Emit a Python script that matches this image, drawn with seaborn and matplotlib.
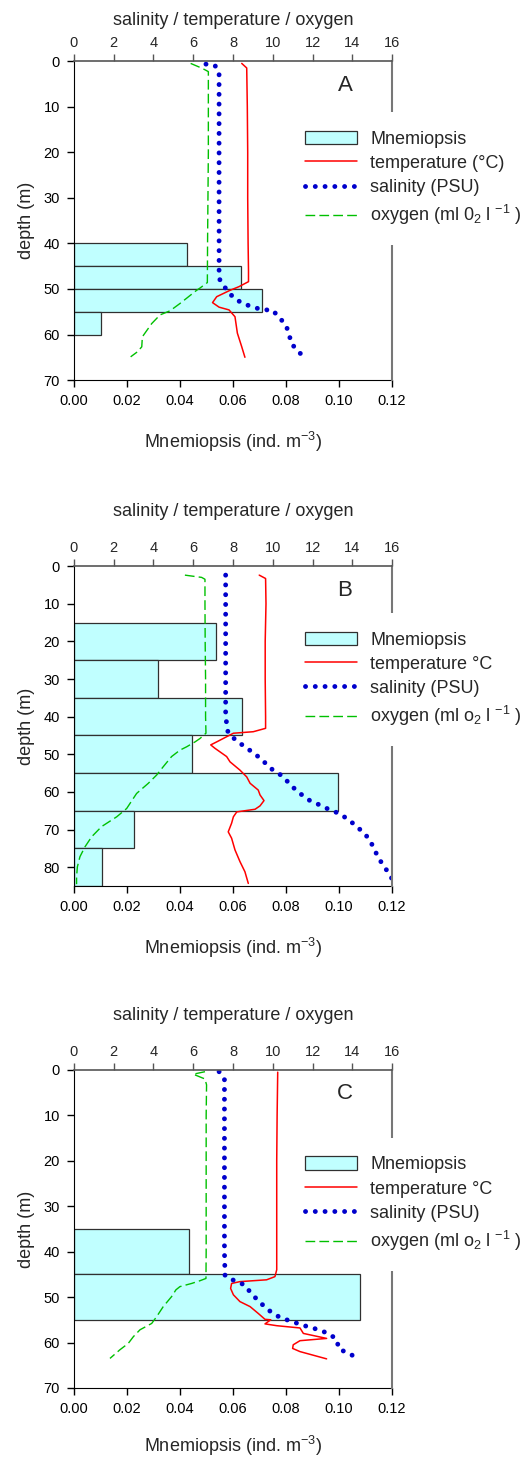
import matplotlib
matplotlib.use("Agg")
import matplotlib.pyplot as plt
import seaborn as sns

# ---- data ----
# Mnemiopsis bars (top of depth bin, bin height, ind. m-3)
a_bin_top = [40, 45, 50, 55]
a_bin_h = [5, 5, 5, 5]
a_mnem = [0.0425, 0.0629, 0.0708, 0.0102]

b_bin_top = [15, 25, 35, 45, 55, 65, 75]
b_bin_h = [10, 10, 10, 10, 10, 10, 10]
b_mnem = [0.0536, 0.0318, 0.0633, 0.0446, 0.0995, 0.0226, 0.0107]

c_bin_top = [35, 45]
c_bin_h = [10, 10]
c_mnem = [0.0434, 0.1079]

# Panel A profiles
a_temp_depth = [0.5, 1.5, 10, 20, 30, 40, 46, 48.4, 49.5, 50.3, 51.7, 53.0, 54.0, 54.6, 56.1, 59.7, 62.7, 65.0]
a_temp = [8.44, 8.69, 8.72, 8.74, 8.74, 8.76, 8.78, 8.78, 8.3, 7.85, 7.18, 6.97, 7.3, 7.8, 8.1, 8.22, 8.44, 8.6]
a_sal_depth = [0.66, 0.95, 2.4, 10, 20, 30, 40, 47.7, 49.7, 51.9, 53.2, 53.9, 54.6, 54.6, 55.9, 57.7, 59.7, 61.8, 63.3, 64.9]
a_sal = [6.64, 7.09, 7.3, 7.3, 7.3, 7.3, 7.3, 7.3, 7.6, 8.02, 8.49, 8.97, 9.47, 9.98, 10.25, 10.62, 10.83, 10.9, 11.2, 11.55]
a_oxy_depth = [0.5, 1.6, 2.3, 10, 20, 30, 40, 48.6, 49.8, 50.3, 53.2, 54.8, 55.7, 57.6, 60.5, 62.7, 63.8, 64.9]
a_oxy = [5.87, 6.46, 6.76, 6.76, 6.76, 6.74, 6.72, 6.71, 6.34, 6.17, 5.33, 4.83, 4.33, 3.91, 3.44, 3.41, 3.19, 2.85]

# Panel B profiles
b_temp_depth = [2.4, 3.3, 10, 20, 30, 40, 43.1, 44.0, 44.4, 46.7, 47.5, 48.4, 50.6, 52.0, 54.2, 56.0, 57.7,
                59.5, 60.8, 62.3, 63.7, 64.6, 65.3, 66.6, 68.3, 70.6, 72.3, 75.4, 78.5, 81.2, 84.3]
b_temp = [9.32, 9.64, 9.66, 9.62, 9.62, 9.64, 9.64, 9.02, 8.02, 7.18, 6.88, 7.09, 7.68, 7.85, 8.35, 8.69, 8.86,
          9.27, 9.36, 9.56, 9.36, 9.11, 8.19, 8.02, 7.93, 7.76, 7.93, 8.1, 8.35, 8.6, 8.77]
b_sal_depth = [2.4, 10, 20, 30, 40, 44.2, 46.2, 48.1, 49.9, 52.1, 54.3, 55.8, 58.3, 60.4, 62.3, 63.5, 64.7,
               65.7, 67.3, 68.9, 70.9, 72.8, 75.3, 77.9, 80.2, 82.9, 83.8]
b_sal = [7.63, 7.63, 7.63, 7.63, 7.63, 7.75, 8.13, 8.62, 9.11, 9.58, 10.03, 10.5, 10.92, 11.37, 11.87, 12.38, 12.85,
         13.33, 13.8, 14.16, 14.59, 14.89, 15.11, 15.36, 15.66, 15.98, 16.05]
b_oxy_depth = [2.4, 3.0, 3.5, 10, 20, 30, 40, 44.4, 45.8, 46.7, 48.0, 48.9, 50.6, 53.3, 55.5, 57.7, 60.4,
               64.4, 66.6, 69.2, 71.9, 74.6, 77.2, 79.9, 82.5, 84.5]
b_oxy = [5.58, 6.42, 6.59, 6.59, 6.6, 6.62, 6.62, 6.64, 6.34, 6.09, 5.67, 5.33, 4.91, 4.49, 4.16, 3.74, 3.15,
         2.65, 2.15, 1.39, 0.89, 0.55, 0.30, 0.17, 0.13, 0.13]

# Panel C profiles
c_temp_depth = [0.5, 10, 20, 30, 40, 44.0, 45.5, 46.2, 46.6, 47.0, 48.1, 49.5, 51.0, 52.1, 53.6, 54.9, 55.0,
                55.9, 56.3, 56.8, 58.0, 59.1, 59.6, 60.5, 61.3, 62.0, 63.6]
c_temp = [10.25, 10.22, 10.2, 10.2, 10.2, 10.2, 10.11, 9.69, 8.35, 7.93, 7.88, 8.02, 8.35, 8.86, 9.27, 9.61, 9.9,
          9.61, 10.2, 11.37, 11.54, 12.71, 11.37, 11.03, 11.0, 11.37, 12.71]
c_sal_depth = [0.4, 2.0, 10, 20, 30, 40, 45.3, 46.4, 47.3, 49.3, 51.2, 53.0, 54.4, 55.2, 55.9, 56.6, 57.2,
               58.1, 59.3, 61.4, 62.4, 63.6]
c_sal = [7.3, 7.57, 7.57, 7.57, 7.57, 7.57, 7.6, 8.07, 8.57, 8.94, 9.36, 9.83, 10.33, 10.83, 11.32, 11.82, 12.33,
         12.83, 13.22, 13.32, 13.82, 14.35]
c_oxy_depth = [0.4, 0.95, 2.0, 3.3, 10, 20, 30, 40, 45.9, 46.4, 47.0, 47.7, 48.4, 49.9, 52.1, 54.3, 55.8,
               57.2, 58.7, 60.2, 61.6, 63.5]
c_oxy = [6.59, 6.0, 6.59, 6.67, 6.65, 6.65, 6.65, 6.65, 6.64, 6.34, 5.92, 5.33, 5.13, 4.91, 4.49, 4.16, 3.91,
         3.32, 2.99, 2.73, 2.31, 1.81]

panels = [
    dict(letter="A", ymax=70, bins=(a_bin_top, a_bin_h, a_mnem),
         temp=(a_temp, a_temp_depth), sal=(a_sal, a_sal_depth), oxy=(a_oxy, a_oxy_depth),
         t_label="temperature (\u00b0C)", o_label=r"oxygen (ml 0$_2$ l $^{-1}$ )",
         pos=[0.1412, 0.7395, 0.6069, 0.2186], top_pad=8, bot_pad=16, leg_y=0.839),
    dict(letter="B", ymax=85, bins=(b_bin_top, b_bin_h, b_mnem),
         temp=(b_temp, b_temp_depth), sal=(b_sal, b_sal_depth), oxy=(b_oxy, b_oxy_depth),
         t_label="temperature \u00b0C", o_label=r"oxygen (ml o$_2$ l $^{-1}$ )",
         pos=[0.1412, 0.3927, 0.6069, 0.2193], top_pad=18, bot_pad=16, leg_y=0.852),
    dict(letter="C", ymax=70, bins=(c_bin_top, c_bin_h, c_mnem),
         temp=(c_temp, c_temp_depth), sal=(c_sal, c_sal_depth), oxy=(c_oxy, c_oxy_depth),
         t_label="temperature \u00b0C", o_label=r"oxygen (ml o$_2$ l $^{-1}$ )",
         pos=[0.1412, 0.0487, 0.6069, 0.2180], top_pad=18, bot_pad=13, leg_y=0.785),
]

sns.set_style("white")
plt.rcParams['font.family'] = ['Liberation Sans', 'DejaVu Sans']
plt.rcParams['mathtext.fontset'] = 'custom'
plt.rcParams['mathtext.rm'] = 'Liberation Sans'
plt.rcParams['mathtext.it'] = 'Liberation Sans'
plt.rcParams['mathtext.default'] = 'regular'

fig = plt.figure(figsize=(5.24, 14.59), dpi=100)

for p in panels:
    ax = fig.add_axes(p["pos"])
    ax2 = ax.twiny()

    # bars on the bottom (Mnemiopsis) scale
    tops, heights, vals = p["bins"]
    ax.barh(tops, vals, height=heights, align="edge", color="#C0FFFF",
            edgecolor="#303030", linewidth=0.9, label="Mnemiopsis")

    # profiles on the top scale
    sns.lineplot(x=p["temp"][0], y=p["temp"][1], ax=ax2, orient="y", sort=False, estimator=None,
                 color="#FF0000", linewidth=1.1, label=p["t_label"], legend=False)
    sns.lineplot(x=p["sal"][0], y=p["sal"][1], ax=ax2, orient="y", sort=False, estimator=None,
                 color="#0000CC", linewidth=3.5, linestyle=(0, (0.01, 2.0)),
                 dash_capstyle="round", label="salinity (PSU)", legend=False)
    sns.lineplot(x=p["oxy"][0], y=p["oxy"][1], ax=ax2, orient="y", sort=False, estimator=None,
                 color="#00C000", linewidth=1.0, linestyle=(0, (7, 3)),
                 label=p["o_label"], legend=False)

    ax.set_xlim(0, 0.12)
    ax2.set_xlim(0, 16)
    ax.set_ylim(p["ymax"], 0)

    ax.set_xticks([0, 0.02, 0.04, 0.06, 0.08, 0.10, 0.12])
    ax.set_xticklabels(["0.00", "0.02", "0.04", "0.06", "0.08", "0.10", "0.12"])
    ax2.set_xticks(range(0, 17, 2))
    ax.set_yticks(range(0, p["ymax"] + 1, 10))

    ax.tick_params(axis="both", direction="out", length=5, width=1, labelsize=10.5, colors="black",
                   bottom=True, left=True, pad=5)
    ax2.tick_params(axis="x", direction="out", length=5, width=1, labelsize=10.5, top=True, pad=3,
                    color="#555555")

    ax.set_xlabel("Mnemiopsis (ind. m$^{-3}$)", fontsize=13, labelpad=p["bot_pad"])
    ax.set_ylabel("depth (m)", fontsize=13, labelpad=6)
    ax2.set_xlabel("salinity / temperature / oxygen", fontsize=13, labelpad=p["top_pad"])
    ax2.set_ylabel("")

    for s in ["top", "right"]:
        ax.spines[s].set_visible(False)
    ax.spines["left"].set_color("black")
    ax.spines["bottom"].set_color("black")
    ax2.spines["left"].set_visible(False)
    ax2.spines["bottom"].set_visible(False)
    ax2.spines["top"].set_color("#555555")
    ax2.spines["right"].set_color("#777777")
    ax2.spines["right"].set_linewidth(1.5)
    ax2.spines["top"].set_linewidth(1.2)

    ax2.text(0.852, 0.925, p["letter"], transform=ax2.transAxes, fontsize=16,
             ha="center", va="center")

    h1, l1 = ax.get_legend_handles_labels()
    h2, l2 = ax2.get_legend_handles_labels()
    ax2.legend(h1 + h2, l1 + l2, loc="upper left", bbox_to_anchor=(0.670, p["leg_y"]),
               fontsize=13, frameon=True, framealpha=1, facecolor="white",
               edgecolor="none", fancybox=False, handlelength=2.9, handleheight=0.75,
               handletextpad=0.7, labelspacing=0.4, borderpad=1.0, borderaxespad=0)

fig.savefig("out.png", dpi=100)
